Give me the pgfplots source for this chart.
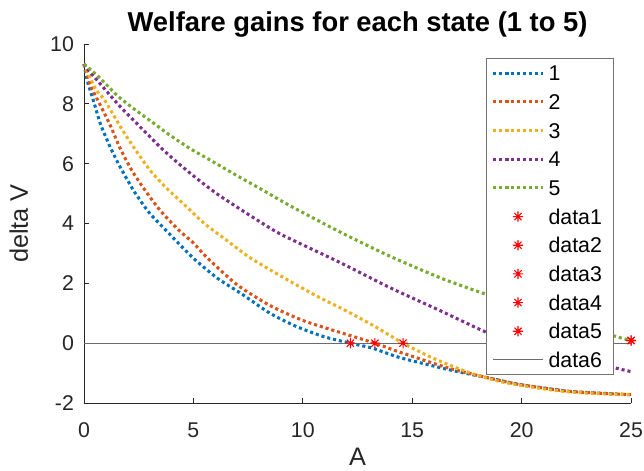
\documentclass[border=0pt]{standalone}
\usepackage{pgfplots}
\pgfplotsset{compat=1.18}
\usepackage{fontspec}
\setmainfont{Liberation Sans}
\definecolor{c1}{rgb}{0,0.447,0.741}
\definecolor{c2}{rgb}{0.85,0.325,0.098}
\definecolor{c3}{rgb}{0.929,0.694,0.125}
\definecolor{c4}{rgb}{0.494,0.184,0.556}
\definecolor{c5}{rgb}{0.466,0.674,0.188}
\definecolor{axc}{rgb}{0.15,0.15,0.15}
\definecolor{zl}{rgb}{0.42,0.42,0.42}
\pgfdeclareplotmark{mstar}{%
  \pgfpathmoveto{\pgfqpoint{0pt}{\pgfplotmarksize}}%
  \pgfpathlineto{\pgfqpoint{0pt}{-\pgfplotmarksize}}%
  \pgfpathmoveto{\pgfqpoint{\pgfplotmarksize}{0pt}}%
  \pgfpathlineto{\pgfqpoint{-\pgfplotmarksize}{0pt}}%
  \pgfpathmoveto{\pgfqpoint{0.707\pgfplotmarksize}{0.707\pgfplotmarksize}}%
  \pgfpathlineto{\pgfqpoint{-0.707\pgfplotmarksize}{-0.707\pgfplotmarksize}}%
  \pgfpathmoveto{\pgfqpoint{0.707\pgfplotmarksize}{-0.707\pgfplotmarksize}}%
  \pgfpathlineto{\pgfqpoint{-0.707\pgfplotmarksize}{0.707\pgfplotmarksize}}%
  \pgfusepathqstroke}
\begin{document}
\begin{tikzpicture}
\path[use as bounding box] (-63pt,-50.25pt) rectangle (419.95pt,302.25pt);
\begin{axis}[
  at={(0,0)}, anchor=south west,
  scale only axis, width=410.25pt, height=269.25pt,
  xmin=0, xmax=25, ymin=-2, ymax=10,
  xtick={0,5,10,15,20,25}, ytick={-2,0,2,4,6,8,10},
  axis lines=left,
  axis line style={-, draw=axc, line width=0.7pt},
  tick align=inside,
  major tick length=3.75pt,
  tick style={draw=axc, line width=0.7pt},
  /pgf/number format/assume math mode=true,
  tick label style={font=\fontsize{16}{16}\selectfont, text=axc},
  xticklabel style={yshift=-11pt},
  yticklabel style={xshift=-4pt},
  title={Welfare gains for each state (1 to 5)},
  title style={font=\bfseries\fontsize{20.5}{20.5}\selectfont, at={(axis description cs:0.5,1)}, anchor=center, yshift=9pt},
  xlabel={A},
  xlabel style={font=\fontsize{19}{19}\selectfont, text=axc, at={(axis description cs:0.5,-0.150)}, anchor=center},
  ylabel={delta V},
  ylabel style={font=\fontsize{19}{19}\selectfont, text=axc, at={(axis description cs:-0.119,0.5)}, anchor=center, rotate=0},
  clip=false,
  legend image code/.code={\draw[mark repeat=2,mark phase=2,#1] plot coordinates {(0pt,0pt) (18.75pt,0pt) (37.5pt,0pt)};},
  legend cell align=left,
  legend style={at={(rel axis cs:0.969,0.961)}, anchor=north east, draw=black!55, line width=0.8pt,
    font=\fontsize{16}{16}\selectfont, inner xsep=3.75pt, inner ysep=4.2pt, row sep=7.9pt, column sep=3pt,
    nodes={inner sep=0pt, text height=12.5pt, text depth=1.1pt},
    /tikz/every even column/.append style={text width=45pt}},
  dots/.style={line width=2.3pt, dash pattern=on 2.3pt off 2.2pt, line cap=butt, smooth, tension=0.4},
]
\addplot[dots, c1] coordinates {(0,9.33)(0.15,8.78)(0.45,8.06)(0.75,7.33)(1.2,6.55)(1.65,5.89)(2.27,5.1)(2.96,4.38)(3.8,3.73)(5.0,2.84)(6.1,2.17)(7.2,1.65)(8.5,1.0)(9.7,0.56)(10.95,0.22)(12.17,0)(13.2,-0.17)(14.43,-0.48)(16.7,-0.89)(18.54,-1.17)(19.9,-1.38)(22.05,-1.6)(23.5,-1.67)(25,-1.72)};
\addlegendentry{1}
\addplot[dots, c2] coordinates {(0,9.33)(0.29,8.62)(0.75,7.95)(1.2,7.28)(1.66,6.5)(2.19,5.77)(2.8,5.1)(3.49,4.43)(4.3,3.8)(5.0,3.35)(5.62,2.86)(7.0,1.95)(8.52,1.25)(10.04,0.75)(11.7,0.36)(13.29,0)(14.43,-0.3)(16.7,-0.84)(18.54,-1.17)(19.9,-1.38)(22.05,-1.6)(23.5,-1.67)(25,-1.72)};
\addlegendentry{2}
\addplot[dots, c3] coordinates {(0,9.33)(0.52,8.5)(0.9,8.17)(1.36,7.61)(1.81,7.06)(2.42,6.39)(3.03,5.77)(3.72,5.22)(4.6,4.62)(5.5,4.0)(6.5,3.45)(7.6,2.85)(9.1,2.2)(10.65,1.57)(11.8,1.15)(13.2,0.6)(14.58,0)(15.95,-0.5)(17.48,-0.95)(19.0,-1.28)(21.29,-1.56)(23,-1.67)(25,-1.72)};
\addlegendentry{3}
\addplot[dots, c4] coordinates {(0,9.33)(0.14,9.17)(0.67,8.73)(1.2,8.28)(1.74,7.84)(2.27,7.45)(2.88,7.0)(3.56,6.5)(4.33,6.0)(5.16,5.5)(6.08,4.99)(6.99,4.55)(8.06,4.05)(9.05,3.62)(11.69,2.7)(14.0,1.85)(16.3,1.08)(18.5,0.33)(20,0.0)(22,-0.4)(24.3,-0.83)(25,-0.95)};
\addlegendentry{4}
\addplot[dots, c5] coordinates {(0,9.33)(0.6,8.95)(1.05,8.62)(1.59,8.23)(2.27,7.84)(3.11,7.39)(3.95,6.94)(4.86,6.5)(5.93,6.05)(6.99,5.6)(8.21,5.1)(9.4,4.6)(11.69,3.72)(14.0,2.9)(16.4,2.15)(18.5,1.6)(20,1.2)(22,0.75)(24.33,0.22)(25,0.09)};
\addlegendentry{5}
\addplot[only marks, mark=mstar, mark size=3.8pt, red, line width=0.8pt] coordinates {(12.17,0)};
\addlegendentry{data1}
\addplot[only marks, mark=mstar, mark size=3.8pt, red, line width=0.8pt] coordinates {(13.29,0)};
\addlegendentry{data2}
\addplot[only marks, mark=mstar, mark size=3.8pt, red, line width=0.8pt] coordinates {(14.58,0)};
\addlegendentry{data3}
\addplot[only marks, mark=mstar, mark size=3.8pt, red, line width=0.8pt] coordinates {(25,0.09)};
\addlegendentry{data4}
\addplot[only marks, mark=mstar, mark size=3.8pt, red, line width=0.8pt] coordinates {(25,0.09)};
\addlegendentry{data5}
\addplot[zl, line width=0.8pt] coordinates {(0,0)(25,0)};
\addlegendentry{data6}
\end{axis}
\end{tikzpicture}
\end{document}
